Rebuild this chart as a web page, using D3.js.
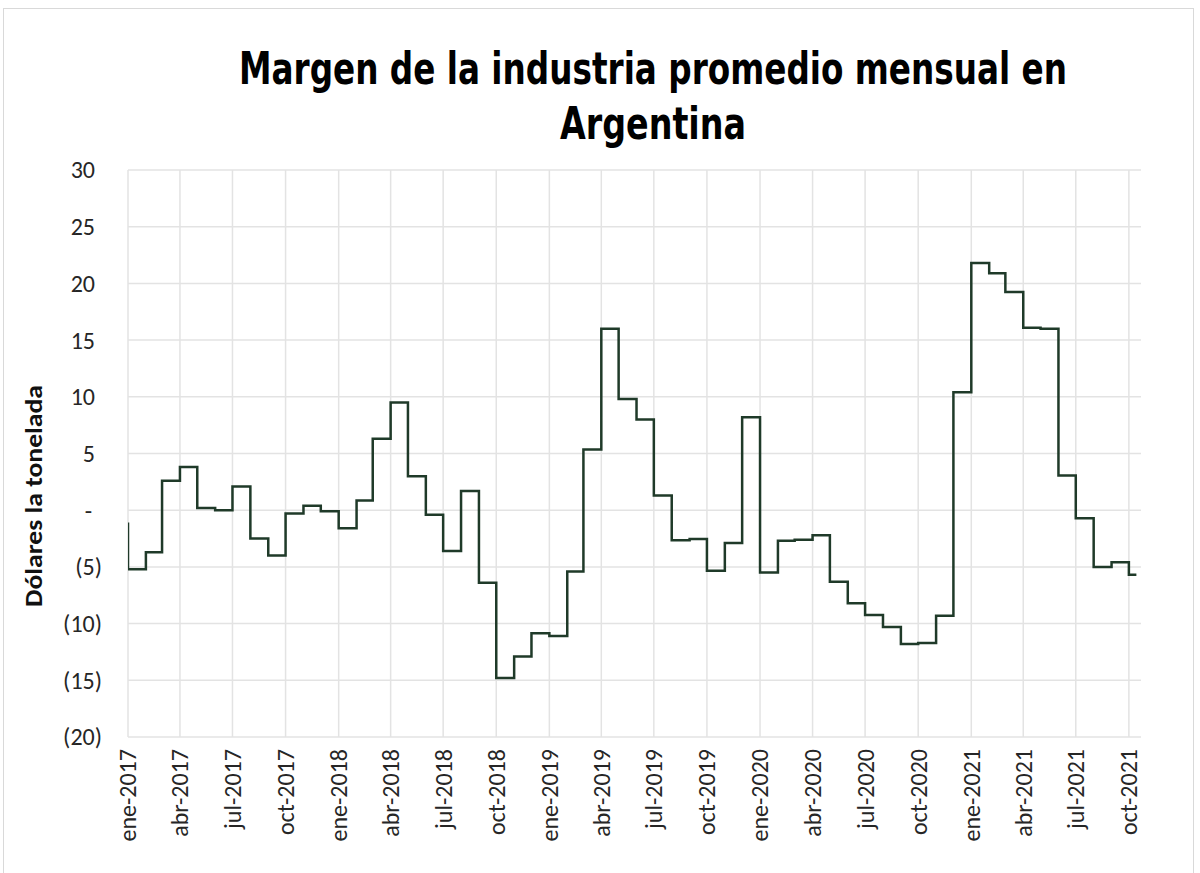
<!DOCTYPE html>
<html>
<head>
<meta charset="utf-8">
<script src="https://cdn.jsdelivr.net/npm/d3@7"></script>
<style>
  body { margin: 0; background: #fff; }
  svg { display: block; }
</style>
</head>
<body>
<svg id="chart"></svg>
<script>
// Size of the page
const width = 1200;
const height = 873;

// Months (first day of each month), the first one is before the axis start
const meses = [
  "2016-12",
  "2017-01", "2017-02", "2017-03", "2017-04", "2017-05", "2017-06",
  "2017-07", "2017-08", "2017-09", "2017-10", "2017-11", "2017-12",
  "2018-01", "2018-02", "2018-03", "2018-04", "2018-05", "2018-06",
  "2018-07", "2018-08", "2018-09", "2018-10", "2018-11", "2018-12",
  "2019-01", "2019-02", "2019-03", "2019-04", "2019-05", "2019-06",
  "2019-07", "2019-08", "2019-09", "2019-10", "2019-11", "2019-12",
  "2020-01", "2020-02", "2020-03", "2020-04", "2020-05", "2020-06",
  "2020-07", "2020-08", "2020-09", "2020-10", "2020-11", "2020-12",
  "2021-01", "2021-02", "2021-03", "2021-04", "2021-05", "2021-06",
  "2021-07", "2021-08", "2021-09", "2021-10"
];

// Monthly average margin (USD per ton)
const margen = [
  -1.2,
  -5.2, -3.7, 2.6, 3.8, 0.2, 0.0,
  2.1, -2.5, -4.0, -0.3, 0.4, -0.1,
  -1.6, 0.85, 6.3, 9.5, 3.0, -0.4,
  -3.6, 1.7, -6.4, -14.8, -12.9, -10.85,
  -11.1, -5.4, 5.35, 16.0, 9.8, 8.0,
  1.3, -2.65, -2.55, -5.35, -2.9, 8.2,
  -5.5, -2.7, -2.6, -2.2, -6.3, -8.2,
  -9.25, -10.3, -11.8, -11.7, -9.3, 10.4,
  21.8, 20.9, 19.25, 16.1, 16.0, 3.05,
  -0.7, -5.0, -4.6, -5.7
];

// Last day with data
const ultimoDia = "2021-10-14";

// Axis range and ticks
const inicioEje = "2017-01-01";
const finEje = "2021-10-22";
const yTicks = [30, 25, 20, 15, 10, 5, 0, -5, -10, -15, -20];
const mesesCortos = ["ene", "feb", "mar", "abr", "may", "jun", "jul", "ago", "sep", "oct", "nov", "dic"];

const parseMes = d3.timeParse("%Y-%m");
const parseDia = d3.timeParse("%Y-%m-%d");

const data = meses.map((m, i) => ({ date: parseMes(m), value: margen[i] }));
data.push({ date: parseDia(ultimoDia), value: margen[margen.length - 1] });

// Plot area
const margin = { top: 170, right: 59, bottom: 136, left: 128 };
const plotW = width - margin.left - margin.right;
const plotH = height - margin.top - margin.bottom;

const svg = d3.select("#chart")
    .attr("width", width)
    .attr("height", height)
    .style("font-family", "Carlito, Lato, 'Open Sans', sans-serif");

// outer chart frame
svg.append("rect")
    .attr("x", 3.5)
    .attr("y", 8.5)
    .attr("width", 1190)
    .attr("height", 900)
    .attr("fill", "none")
    .attr("stroke", "#d9d9d9")
    .attr("stroke-width", 1);

const x = d3.scaleTime()
    .domain([parseDia(inicioEje), parseDia(finEje)])
    .range([0, plotW]);

const y = d3.scaleLinear()
    .domain([-20, 30])
    .range([plotH, 0]);

const g = svg.append("g")
    .attr("transform", `translate(${margin.left},${margin.top})`);

// Quarterly ticks
const xTicks = d3.timeMonth.every(3).range(parseDia(inicioEje), parseDia(finEje));

// gridlines
g.append("g")
    .selectAll("line")
    .data(yTicks)
    .join("line")
    .attr("x1", 0)
    .attr("x2", plotW)
    .attr("y1", d => y(d))
    .attr("y2", d => y(d))
    .attr("stroke", "#e3e3e3")
    .attr("stroke-width", 1.5);

g.append("g")
    .selectAll("line")
    .data(xTicks)
    .join("line")
    .attr("x1", d => x(d))
    .attr("x2", d => x(d))
    .attr("y1", 0)
    .attr("y2", plotH)
    .attr("stroke", "#e3e3e3")
    .attr("stroke-width", 1.5);

// y tick labels, accounting style: (5), - , 5 with room for ")"
const fmtY = d => d === 0 ? "-" : d < 0 ? `(${-d})` : `${d}`;
const offY = d => d < 0 ? -26 : d === 0 ? -36 : -33;
g.append("g")
    .selectAll("text")
    .data(yTicks)
    .join("text")
    .attr("x", offY)
    .attr("y", d => y(d))
    .attr("dy", "0.35em")
    .attr("text-anchor", "end")
    .attr("font-size", 24)
    .attr("fill", "#262626")
    .text(fmtY);

// x tick labels (rotated)
const fmtX = d => `${mesesCortos[d.getMonth()]}-${d.getFullYear()}`;
g.append("g")
    .selectAll("text")
    .data(xTicks)
    .join("text")
    .attr("transform", d => `translate(${x(d)},${plotH + 12}) rotate(-90)`)
    .attr("dy", "0.35em")
    .attr("text-anchor", "end")
    .attr("font-size", 24)
    .attr("fill", "#262626")
    .text(fmtX);

// clip so the line starts at the axis start
svg.append("clipPath")
    .attr("id", "plot-clip")
    .append("rect")
    .attr("width", plotW)
    .attr("height", plotH);

const line = d3.line()
    .x(d => x(d.date))
    .y(d => y(d.value))
    .curve(d3.curveStepAfter);

g.append("path")
    .datum(data)
    .attr("clip-path", "url(#plot-clip)")
    .attr("fill", "none")
    .attr("stroke", "#1f3a29")
    .attr("stroke-width", 2.5)
    .attr("d", line);

// y axis title
svg.append("text")
    .attr("transform", "translate(34,496) rotate(-90)")
    .attr("dy", "0.35em")
    .attr("text-anchor", "middle")
    .attr("font-size", 24)
    .attr("font-weight", "bold")
    .attr("fill", "#111")
    .attr("textLength", 222)
    .attr("lengthAdjust", "spacingAndGlyphs")
    .text("Dólares la tonelada");

// Title: condensed look, taller glyphs via vertical scale
const title = svg.append("g")
    .attr("font-family", "'Liberation Sans Narrow', 'DejaVu Sans Condensed', 'Roboto Condensed', sans-serif")
    .attr("font-weight", "bold")
    .attr("font-size", 36)
    .attr("text-anchor", "middle")
    .attr("fill", "#000");

title.append("text")
    .attr("transform", "translate(653,84) scale(1,1.22)")
    .attr("textLength", 828)
    .attr("lengthAdjust", "spacingAndGlyphs")
    .text("Margen de la industria promedio mensual en");

title.append("text")
    .attr("transform", "translate(653,139) scale(1,1.22)")
    .attr("textLength", 186)
    .attr("lengthAdjust", "spacingAndGlyphs")
    .text("Argentina");
</script>
</body>
</html>
